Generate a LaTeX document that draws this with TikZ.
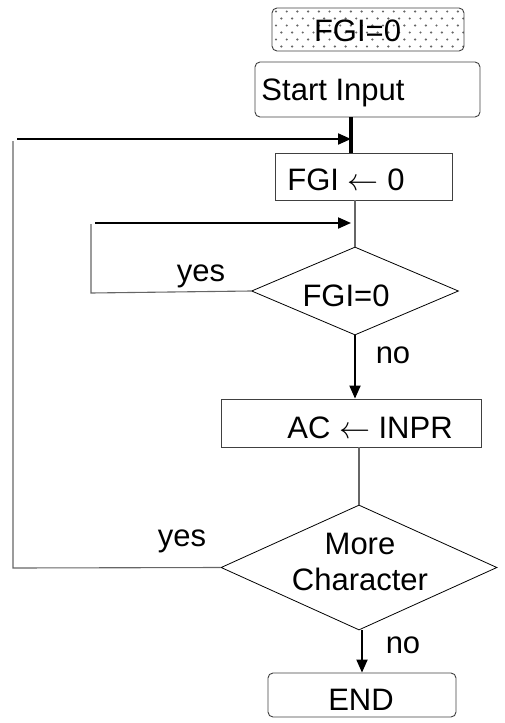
\RequirePackage{fix-cm}
\documentclass[tikz,border=0pt]{standalone}
\usepackage{fontspec}
\setmainfont{Liberation Sans}
\usetikzlibrary{shapes.geometric,arrows.meta}
\begin{document}
\begin{tikzpicture}[x=1pt,y=-1pt,
  every node/.style={font=\fontsize{31}{36}\selectfont, inner sep=0pt},
  rbox/.style={draw=black!75, line width=0.9pt, rounded corners=5pt},
  sbox/.style={draw=black!75, line width=0.9pt},
  dia/.style={draw=black, line width=0.8pt, diamond, inner sep=0pt},
  conn/.style={draw=black!60, line width=1.1pt},
  arr/.style={draw=black, line width=2pt, -{Triangle[length=13pt,width=11pt]}},
  lbl/.style={}
]
\useasboundingbox (0,0) rectangle (504,723);

% boxes
\node[rbox, minimum width=192pt, minimum height=43pt,
  path picture={
    \foreach \r in {0,...,6}{
      \pgfmathsetmacro{\yy}{-18+\r*7}
      \pgfmathsetmacro{\off}{mod(\r,2)*5.35}
      \foreach \c in {0,...,18}{
        \fill[black!60] (-92+\off+\c*10.7,\yy) circle (1.2pt);
      }
    }
  }] (flag) at (368,29.5) {};
\node[rbox, minimum width=225pt, minimum height=55pt] (start) at (367.5,89.5) {};
\node[sbox, minimum width=177pt, minimum height=47pt] (fgiset) at (363.5,176.5) {};
\node[dia, minimum width=207pt, minimum height=88pt] (dec1) at (355,291) {};
\node[sbox, minimum width=260pt, minimum height=48pt] (ac) at (351,423) {};
\node[dia, minimum width=276pt, minimum height=125pt] (dec2) at (359,567.5) {};
\node[rbox, minimum width=188pt, minimum height=44pt] (endn) at (362,695) {};

% texts
\node (flagtxt) at (357.5,31) {FGI=0};
\node (starttxt) at (333,93) {Start Input};
\node (fgisettxt) at (346,180) {FGI $\leftarrow$ 0};
\node (dec1txt) at (346,296) {FGI=0};
\node (actxt) at (370,428) {AC $\leftarrow$ INPR};
\node[align=center] (dec2txt) at (360,562) {More\\Character};
\node (endtxt) at (361,700) {END};

% coordinates
\coordinate (j1) at (351,139);
\coordinate (l1) at (17,139);
\coordinate (c1top) at (13,141);
\coordinate (c1bot) at (13,568);
\coordinate (j2) at (351,223);
\coordinate (l2) at (95,223);
\coordinate (c2top) at (91,224);
\coordinate (c2bot) at (91,293);

% connectors
\draw[line width=4pt] (j1 |- start.south) -- (j1 |- fgiset.north);
\draw[arr] (l1) -- (j1);
\draw[conn] (dec2.west) -- (c1bot) -- (c1top);
\draw[arr] (l2) -- (j2);
\draw[conn] (dec1.west) -- (c2bot) -- (c2top);
\draw[conn] (dec1.north) -- (dec1.north |- fgiset.south);
\draw[arr] (dec1.south) -- (dec1.south |- ac.north);
\draw[conn] (dec2.north) -- (dec2.north |- ac.south);
\draw[arr] (dec2.south -| endn) -- (endn.north);

% labels
\node[lbl] (yes1) at (201,276) {yes};
\node[lbl] (no1) at (393,355) {no};
\node[lbl] (yes2) at (182,541) {yes};
\node[lbl] (no2) at (403,645) {no};
\end{tikzpicture}
\end{document}
